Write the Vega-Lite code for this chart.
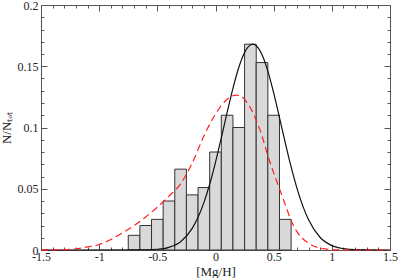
{
  "$schema": "https://vega.github.io/schema/vega-lite/v6.json",
  "width": 349,
  "height": 245,
  "autosize": {"type": "none"},
  "padding": {"left": 41, "top": 5, "right": 9, "bottom": 28},
  "background": "white",
  "config": {
    "view": {"stroke": "#555", "strokeWidth": 1},
    "axis": {
      "labelFont": "Liberation Serif",
      "titleFont": "Liberation Serif",
      "labelFontSize": 12,
      "titleFontSize": 13,
      "labelColor": "#222",
      "titleColor": "#222",
      "titleFontWeight": "normal",
      "domainColor": "#555",
      "tickColor": "#555",
      "grid": false,
      "labelOverlap": false,
      "labelFlush": false
    }
  },
  "datasets": {
    "bins": [
      {"lo": -0.75, "hi": -0.65, "f": 0.012},
      {"lo": -0.65, "hi": -0.55, "f": 0.020},
      {"lo": -0.55, "hi": -0.45, "f": 0.025},
      {"lo": -0.45, "hi": -0.35, "f": 0.040},
      {"lo": -0.35, "hi": -0.25, "f": 0.066},
      {"lo": -0.25, "hi": -0.15, "f": 0.045},
      {"lo": -0.15, "hi": -0.05, "f": 0.051},
      {"lo": -0.05, "hi": 0.05, "f": 0.080},
      {"lo": 0.05, "hi": 0.15, "f": 0.110},
      {"lo": 0.15, "hi": 0.25, "f": 0.100},
      {"lo": 0.25, "hi": 0.35, "f": 0.168},
      {"lo": 0.35, "hi": 0.45, "f": 0.153},
      {"lo": 0.45, "hi": 0.55, "f": 0.110},
      {"lo": 0.55, "hi": 0.65, "f": 0.025}
    ],
    "fit": [
      {"x": -1.5, "y": 0.0},
      {"x": -0.6, "y": 0.0002},
      {"x": -0.5, "y": 0.0006},
      {"x": -0.4, "y": 0.0022},
      {"x": -0.3, "y": 0.0068},
      {"x": -0.2, "y": 0.0177},
      {"x": -0.15, "y": 0.0267},
      {"x": -0.1, "y": 0.0387},
      {"x": -0.05, "y": 0.0537},
      {"x": 0.0, "y": 0.0716},
      {"x": 0.05, "y": 0.0916},
      {"x": 0.1, "y": 0.1123},
      {"x": 0.15, "y": 0.132},
      {"x": 0.2, "y": 0.149},
      {"x": 0.25, "y": 0.1613},
      {"x": 0.3, "y": 0.1674},
      {"x": 0.32, "y": 0.168},
      {"x": 0.35, "y": 0.1667},
      {"x": 0.4, "y": 0.1593},
      {"x": 0.45, "y": 0.146},
      {"x": 0.5, "y": 0.1282},
      {"x": 0.55, "y": 0.1081},
      {"x": 0.6, "y": 0.0874},
      {"x": 0.65, "y": 0.0678},
      {"x": 0.7, "y": 0.0505},
      {"x": 0.75, "y": 0.036},
      {"x": 0.8, "y": 0.0246},
      {"x": 0.9, "y": 0.0102},
      {"x": 1.0, "y": 0.0036},
      {"x": 1.1, "y": 0.0011},
      {"x": 1.2, "y": 0.0003},
      {"x": 1.5, "y": 0.0}
    ],
    "model": [
      {"x": -1.5, "y": 0.0},
      {"x": -1.3, "y": 0.0003},
      {"x": -1.2, "y": 0.001},
      {"x": -1.1, "y": 0.0025},
      {"x": -1.0, "y": 0.0045},
      {"x": -0.9, "y": 0.0085},
      {"x": -0.8, "y": 0.014},
      {"x": -0.7, "y": 0.02},
      {"x": -0.6, "y": 0.027},
      {"x": -0.5, "y": 0.035},
      {"x": -0.4, "y": 0.044},
      {"x": -0.3, "y": 0.054},
      {"x": -0.2, "y": 0.071},
      {"x": -0.1, "y": 0.093},
      {"x": 0.0, "y": 0.111},
      {"x": 0.1, "y": 0.123},
      {"x": 0.18, "y": 0.1265},
      {"x": 0.25, "y": 0.123},
      {"x": 0.3, "y": 0.116},
      {"x": 0.35, "y": 0.106},
      {"x": 0.4, "y": 0.093},
      {"x": 0.45, "y": 0.077},
      {"x": 0.5, "y": 0.063},
      {"x": 0.55, "y": 0.05},
      {"x": 0.6, "y": 0.037},
      {"x": 0.65, "y": 0.024},
      {"x": 0.7, "y": 0.015},
      {"x": 0.8, "y": 0.0055},
      {"x": 0.9, "y": 0.0015},
      {"x": 1.0, "y": 0.0003},
      {"x": 1.1, "y": 0.0},
      {"x": 1.5, "y": 0.0}
    ]
  },
  "resolve": {"axis": {"x": "independent", "y": "independent"}},
  "layer": [
    {
      "data": {"name": "bins"},
      "mark": {"type": "rect", "fill": "#d9d9d9", "stroke": "#333", "strokeWidth": 1},
      "encoding": {
        "x": {
          "field": "lo", "type": "quantitative",
          "scale": {"domain": [-1.5, 1.5], "nice": false, "zero": false},
          "axis": {
            "orient": "bottom",
            "title": "[Mg/H]",
            "titlePadding": 0,
            "values": [-1.5,-1.4,-1.3,-1.2,-1.1,-1.0,-0.9,-0.8,-0.7,-0.6,-0.5,-0.4,-0.3,-0.2,-0.1,0,0.1,0.2,0.3,0.4,0.5,0.6,0.7,0.8,0.9,1.0,1.1,1.2,1.3,1.4,1.5],
            "labelExpr": "abs(round(datum.value*10)) % 5 === 0 ? '' + round(datum.value*10)/10 : ''",
            "tickSize": {"condition": {"test": "abs(round(datum.value*10)) % 5 === 0", "value": -6}, "value": -3},
            "labelPadding": 7
          }
        },
        "x2": {"field": "hi"},
        "y": {
          "field": "f", "type": "quantitative",
          "scale": {"domain": [0, 0.2], "nice": false},
          "axis": {
            "orient": "left",
            "title": "N/Nₜₒₜ",
            "titlePadding": 4,
            "values": [0,0.01,0.02,0.03,0.04,0.05,0.06,0.07,0.08,0.09,0.1,0.11,0.12,0.13,0.14,0.15,0.16,0.17,0.18,0.19,0.2],
            "labelExpr": "round(datum.value*100) % 5 === 0 ? '' + round(datum.value*100)/100 : ''",
            "tickSize": {"condition": {"test": "round(datum.value*100) % 5 === 0", "value": -6}, "value": -3},
            "labelPadding": 9
          }
        },
        "y2": {"datum": 0}
      }
    },
    {
      "data": {"name": "fit"},
      "mark": {"type": "line", "color": "#111", "strokeWidth": 1.2, "interpolate": "monotone"},
      "encoding": {
        "x": {
          "field": "x", "type": "quantitative",
          "axis": {
            "orient": "top",
            "title": null,
            "labels": false,
            "values": [-1.5,-1.4,-1.3,-1.2,-1.1,-1.0,-0.9,-0.8,-0.7,-0.6,-0.5,-0.4,-0.3,-0.2,-0.1,0,0.1,0.2,0.3,0.4,0.5,0.6,0.7,0.8,0.9,1.0,1.1,1.2,1.3,1.4,1.5],
            "tickSize": {"condition": {"test": "abs(round(datum.value*10)) % 5 === 0", "value": -6}, "value": -3}
          }
        },
        "y": {
          "field": "y", "type": "quantitative",
          "axis": {
            "orient": "right",
            "title": null,
            "labels": false,
            "values": [0,0.01,0.02,0.03,0.04,0.05,0.06,0.07,0.08,0.09,0.1,0.11,0.12,0.13,0.14,0.15,0.16,0.17,0.18,0.19,0.2],
            "tickSize": {"condition": {"test": "round(datum.value*100) % 5 === 0", "value": -6}, "value": -3}
          }
        }
      }
    },
    {
      "data": {"name": "model"},
      "mark": {"type": "line", "color": "#ff2020", "strokeWidth": 1.2, "strokeDash": [7, 4], "interpolate": "monotone"},
      "encoding": {
        "x": {"field": "x", "type": "quantitative", "axis": null},
        "y": {"field": "y", "type": "quantitative", "axis": null}
      }
    }
  ]
}
